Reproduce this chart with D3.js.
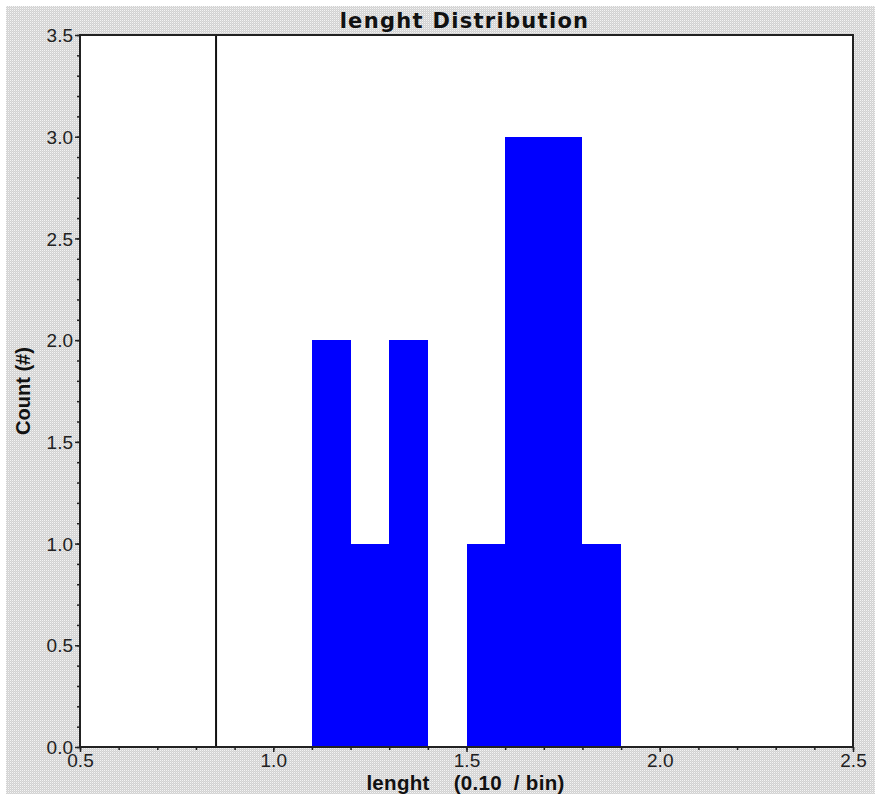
<!DOCTYPE html>
<html>
<head>
<meta charset="utf-8">
<script src="https://cdn.jsdelivr.net/npm/d3@7"></script>
<style>
  html, body { margin: 0; padding: 0; background: #fff; }
  svg { display: block; }
</style>
</head>
<body>
<svg id="chart" width="875" height="794"></svg>
<script>
// ---- data ----
const binStarts = [1.1, 1.2, 1.3, 1.4, 1.5, 1.6, 1.7, 1.8];
const binCounts = [2, 1, 2, 0, 1, 3, 3, 1];
const binWidth = 0.1;
const markerValue = 0.852;
const xTickValues = [0.5, 1.0, 1.5, 2.0, 2.5];
const yTickValues = [0.0, 0.5, 1.0, 1.5, 2.0, 2.5, 3.0, 3.5];
const titleText = "lenght Distribution";
const xLabelText = "lenght    (0.10  / bin)";
const yLabelText = "Count (#)";

// ---- layout ----
const W = 875, H = 794;
const plot = { left: 80, top: 35, right: 853, bottom: 747 };

const svg = d3.select("#chart");
const defs = svg.append("defs");
const pat = defs.append("pattern").attr("id", "dither")
  .attr("patternUnits", "userSpaceOnUse").attr("width", 2).attr("height", 2);
pat.append("rect").attr("width", 2).attr("height", 2).attr("fill", "#d2d2d2");
pat.append("rect").attr("x", 0).attr("y", 0).attr("width", 1).attr("height", 1).attr("fill", "#f4f4f4");
pat.append("rect").attr("x", 1).attr("y", 1).attr("width", 1).attr("height", 1).attr("fill", "#dcdcdc");

svg.append("rect").attr("x", 0).attr("y", 0).attr("width", W).attr("height", H).attr("fill", "#fff");
svg.append("rect").attr("x", 6).attr("y", 6).attr("width", W - 6).attr("height", H - 6).attr("fill", "url(#dither)");

const x = d3.scaleLinear().domain([0.5, 2.5]).range([plot.left, plot.right]);
const y = d3.scaleLinear().domain([0, 3.5]).range([plot.bottom, plot.top]);

// plot background
svg.append("rect")
  .attr("x", plot.left).attr("y", plot.top)
  .attr("width", plot.right - plot.left).attr("height", plot.bottom - plot.top)
  .attr("fill", "#fff");

// bars
svg.append("g").attr("shape-rendering", "crispEdges").selectAll("rect")
  .data(binStarts.map((s, i) => ({ s, c: binCounts[i] })).filter(d => d.c > 0))
  .join("rect")
  .attr("x", d => Math.round(x(d.s)))
  .attr("y", d => Math.round(y(d.c)))
  .attr("width", d => Math.round(x(d.s + binWidth)) - Math.round(x(d.s)))
  .attr("height", d => Math.round(y(0)) - Math.round(y(d.c)))
  .attr("fill", "#0000ff");

// marker line
svg.append("line")
  .attr("x1", x(markerValue)).attr("x2", x(markerValue))
  .attr("y1", plot.top).attr("y2", plot.bottom)
  .attr("stroke", "#111").attr("stroke-width", 2);

// frame
svg.append("rect")
  .attr("x", plot.left).attr("y", plot.top)
  .attr("width", plot.right - plot.left).attr("height", plot.bottom - plot.top)
  .attr("fill", "none").attr("stroke", "#222").attr("stroke-width", 2);

// axes
const fmt = d3.format(".1f");
const xMinor = d3.range(5, 26).map(v => v / 10);
const yMinor = d3.range(0, 36).map(v => v / 10);

const gxMinor = svg.append("g").attr("transform", `translate(0,${plot.bottom})`)
  .call(d3.axisBottom(x).tickValues(xMinor).tickSize(3).tickFormat(""));
const gx = svg.append("g").attr("transform", `translate(0,${plot.bottom})`)
  .call(d3.axisBottom(x).tickValues(xTickValues).tickSize(5).tickPadding(2).tickFormat(fmt));
const gyMinor = svg.append("g").attr("transform", `translate(${plot.left},0)`)
  .call(d3.axisLeft(y).tickValues(yMinor).tickSize(3).tickFormat(""));
const gy = svg.append("g").attr("transform", `translate(${plot.left},0)`)
  .call(d3.axisLeft(y).tickValues(yTickValues).tickSize(5).tickPadding(2).tickFormat(fmt));

[gxMinor, gx, gyMinor, gy].forEach(g => {
  g.select(".domain").remove();
  g.selectAll(".tick line").attr("stroke", "#222").attr("stroke-width", 1.5);
  g.selectAll("text")
    .attr("font-family", "'Liberation Sans', Arial, sans-serif")
    .attr("font-size", 19)
    .attr("fill", "#222");
});
gx.selectAll("text").attr("dy", "0.71em");
gy.selectAll("text").attr("dy", "0.35em");

// title
svg.append("text")
  .attr("x", (plot.left + plot.right) / 2 - 2).attr("y", 28)
  .attr("text-anchor", "middle")
  .attr("font-family", "'DejaVu Sans', Verdana, sans-serif")
  .attr("font-weight", "bold")
  .attr("font-size", 21)
  .attr("letter-spacing", 1.3)
  .attr("fill", "#111")
  .text(titleText);

// x label
svg.append("text")
  .attr("x", (plot.left + plot.right) / 2 - 1).attr("y", 790)
  .attr("text-anchor", "middle")
  .style("white-space", "pre")
  .attr("font-family", "'Liberation Sans', Arial, sans-serif")
  .attr("font-weight", "bold")
  .attr("font-size", 20.5)
  .attr("letter-spacing", 0.3)
  .attr("fill", "#111")
  .text(xLabelText);

// y label
svg.append("text")
  .attr("transform", `translate(30,${(plot.top + plot.bottom) / 2}) rotate(-90)`)
  .attr("text-anchor", "middle")
  .attr("font-family", "'Liberation Sans', Arial, sans-serif")
  .attr("font-weight", "bold")
  .attr("font-size", 20)
  .attr("fill", "#111")
  .text(yLabelText);
</script>
</body>
</html>
